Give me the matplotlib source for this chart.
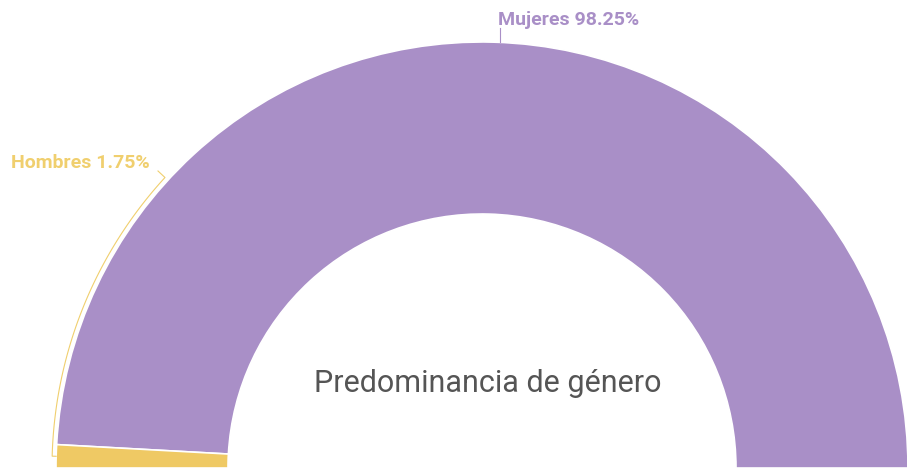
import numpy as np
import matplotlib.pyplot as plt
from matplotlib.patches import Wedge

labels = ['Mujeres', 'Hombres']
values = [98.25, 1.75]
colors = ['#a98fc7', '#efc964']
label_colors = ['#a98fc7', '#f0cf6e']
title = 'Predominancia de género'

W, H = 907, 470
cx, cy = 482, 2
r_out, r_in = 426, 254

fig = plt.figure(figsize=(W / 100, H / 100), dpi=100)
ax = fig.add_axes([0, 0, 1, 1])
ax.set_xlim(0, W)
ax.set_ylim(0, H)
ax.set_aspect('equal')
ax.axis('off')

total = sum(values)
start = 0.0
mids = []
for v, c in zip(values, colors):
    span = 180.0 * v / total
    ax.add_patch(Wedge((cx, cy), r_out, start, start + span, width=r_out - r_in,
                       facecolor=c, edgecolor='white', linewidth=1.2))
    mids.append(start + span / 2)
    start += span

# Mujeres label, straight up
a = np.radians(87.6)
x0 = cx + r_out * np.cos(a)
ax.plot([x0, x0], [cy + r_out * np.sin(a), H - 28], color=label_colors[0], lw=0.8)
ax.text(x0 - 2, H - 20, f'{labels[0]} {values[0]:.2f}%', color=label_colors[0],
        fontsize=14, fontweight='bold', family='Roboto', va='center', ha='left')

# Hombres label, line curving around the outer edge
rr = r_out + 4
t = np.radians(np.linspace(mids[1], 137.5, 80))
xs = cx + rr * np.cos(t)
ys = cy + rr * np.sin(t)
xs = np.concatenate([[cx + r_out * np.cos(np.radians(mids[1]))], xs, [158]])
ys = np.concatenate([[cy + r_out * np.sin(np.radians(mids[1]))], ys, [H - 171]])
ax.plot(xs, ys, color=label_colors[1], lw=0.8)
ax.text(11, H - 163, f'{labels[1]} {values[1]:.2f}%', color=label_colors[1],
        fontsize=14, fontweight='bold', family='Roboto', va='center', ha='left')

ax.text(488, H - 383, title, color='#555555', fontsize=22, family='Roboto',
        ha='center', va='center')

fig.savefig('out.png', dpi=100)
